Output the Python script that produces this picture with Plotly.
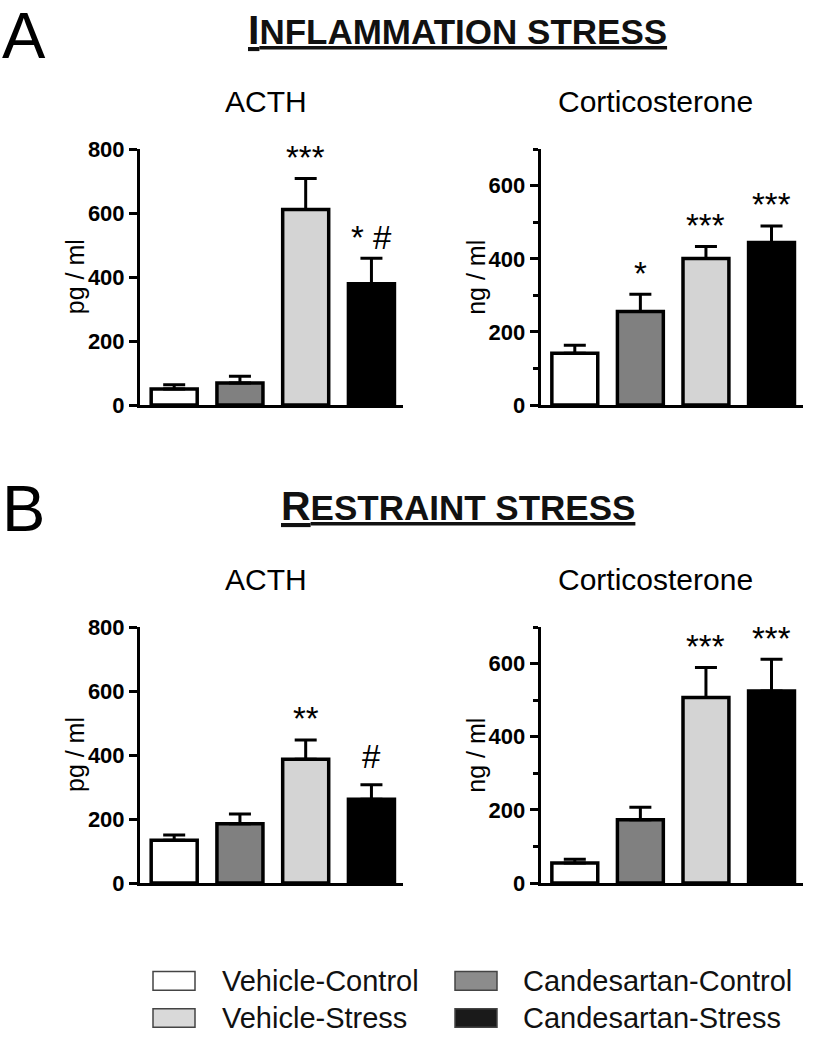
import plotly.graph_objects as go

W, H = 817, 1050

groups = ["Vehicle-Control", "Candesartan-Control", "Vehicle-Stress", "Candesartan-Stress"]
bar_colors = ["#ffffff", "#808080", "#d4d4d4", "#000000"]
legend_colors = ["#ffffff", "#8c8c8c", "#d9d9d9", "#1a1a1a"]

a_acth_mean = [50, 69, 611, 379]
a_acth_sem = [14, 21, 97, 80]
a_acth_sig = ["", "", "***", "* #"]

a_cort_mean = [142, 256, 401, 445]
a_cort_sem = [22, 47, 33, 45]
a_cort_sig = ["", "*", "***", "***"]

b_acth_mean = [134, 185, 387, 262]
b_acth_sem = [16, 31, 60, 45]
b_acth_sig = ["", "", "**", "#"]

b_cort_mean = [55, 173, 507, 525]
b_cort_sem = [10, 34, 82, 87]
b_cort_sig = ["", "", "***", "***"]

acth_ticks = [0, 200, 400, 600, 800]
cort_ticks = [0, 200, 400, 600]
cort_minor = [100, 300, 500, 700]

FONT = "Liberation Sans, Arial, sans-serif"


def px_x(p):
    return p / W


def px_y(p):
    return 1 - p / H


panels = [
    (a_acth_mean, a_acth_sem, a_acth_sig, "", (140, 403), (402.7, 140.5), 800, "pg / ml", "ACTH", -6),
    (a_cort_mean, a_cort_sem, a_cort_sig, "2", (540.7, 803), (402.7, 140.5), 700, "ng / ml", "Corticosterone", -16),
    (b_acth_mean, b_acth_sem, b_acth_sig, "3", (140, 403), (892.3, 630), 800, "pg / ml", "ACTH", -6),
    (b_cort_mean, b_cort_sem, b_cort_sig, "4", (540.7, 803), (892.3, 630), 700, "ng / ml", "Corticosterone", -16),
]

fig = go.Figure()
annotations = []
shapes = []
layout_axes = {}

for mean, sem, sig, sfx, xd, yd, ymax, unit, hormone, tdx in panels:
    xa = "x" + sfx
    ya = "y" + sfx
    cats = list(range(len(groups)))
    fig.add_trace(go.Bar(
        x=cats, y=mean,
        xaxis=xa, yaxis=ya,
        width=0.7,
        marker=dict(color=bar_colors, line=dict(color="black", width=3.5)),
        error_y=dict(type="data", array=sem, arrayminus=[0] * len(sem), symmetric=False,
                     color="black", thickness=3, width=11),
        showlegend=False, hoverinfo="skip",
    ))
    layout_axes["xaxis" + sfx] = dict(
        domain=[px_x(xd[0]), px_x(xd[1])], range=[-0.52, 3.48], anchor=ya,
        showticklabels=False, ticks="", showgrid=False, zeroline=False,
        showline=True, linewidth=3, linecolor="black", fixedrange=True,
    )
    is_cort = ymax == 700
    ydict = dict(
        domain=[px_y(yd[0]), px_y(yd[1])], range=[0, ymax], anchor=xa,
        tickvals=cort_ticks if is_cort else acth_ticks,
        ticks="outside", ticklen=8, tickwidth=3, tickcolor="black",
        tickfont=dict(family=FONT, size=22, color="black", weight="bold"),
        showgrid=False, zeroline=False, showline=True, linewidth=3, linecolor="black",
        fixedrange=True,
    )
    if is_cort:
        ydict["minor"] = dict(tickvals=cort_minor, ticks="outside", ticklen=5, tickwidth=2.5,
                              tickcolor="black")
    layout_axes["yaxis" + sfx] = ydict

    for i, s in enumerate(sig):
        if not s:
            continue
        shift = 28 if s == "#" else 21
        annotations.append(dict(
            x=i, y=mean[i] + sem[i], xref=xa, yref=ya, text=s, showarrow=False,
            yanchor="middle", yshift=shift, xanchor="center",
            font=dict(family=FONT, size=33, color="black"),
        ))
    annotations.append(dict(
        x=px_x(xd[0] - 65), y=px_y((yd[0] + yd[1]) / 2), xref="paper", yref="paper",
        text=unit, textangle=-90, showarrow=False, xanchor="center", yanchor="middle",
        font=dict(family=FONT, size=25, color="black"),
    ))
    annotations.append(dict(
        x=px_x((xd[0] + xd[1]) / 2 + tdx), y=px_y(yd[1] - 49), xref="paper", yref="paper",
        text=hormone, showarrow=False, xanchor="center", yanchor="middle",
        font=dict(family=FONT, size=30, color="black"),
    ))

for letter, first, rest, cy_letter, cy_title in [
    ("A", "I", "NFLAMMATION STRESS", 24, 18),
    ("B", "R", "ESTRAINT STRESS", 509, 506),
]:
    annotations.append(dict(
        x=px_x(0), y=px_y(cy_letter), xref="paper", yref="paper", text=letter,
        showarrow=False, xanchor="left", yanchor="middle",
        font=dict(family=FONT, size=65, color="black"),
    ))
    annotations.append(dict(
        x=px_x(457.5), y=px_y(cy_title), xref="paper", yref="paper",
        text="<b><span style='font-size:41px'>" + first + "</span>" + rest + "</b>",
        showarrow=False, xanchor="center", yanchor="middle",
        font=dict(family=FONT, size=35, color="#111111", lineposition="under"),
    ))

legend_cols = [(153, 195, 220), (455, 497, 521)]
legend_rows = [(983, 1002), (1021, 1040)]
for k, name in enumerate(groups):
    col = k % 2
    row = k // 2
    x0, x1, tx = legend_cols[col]
    y0, y1 = legend_rows[row]
    shapes.append(dict(type="rect", xref="paper", yref="paper",
                       x0=px_x(x0), x1=px_x(x1), y0=px_y(y1), y1=px_y(y0),
                       fillcolor=legend_colors[k], line=dict(color="#444444", width=1.5)))
    annotations.append(dict(
        x=px_x(tx), y=px_y((y0 + y1) / 2), xref="paper", yref="paper", text=name,
        showarrow=False, xanchor="left", yanchor="middle",
        font=dict(family=FONT, size=29, color="#111111"),
    ))

fig.update_layout(
    width=W, height=H, autosize=False,
    margin=dict(l=0, r=0, t=0, b=0),
    paper_bgcolor="white", plot_bgcolor="white",
    bargap=0.3,
    annotations=annotations, shapes=shapes,
    **layout_axes,
)

fig.write_html(
    "out.html",
    config={"displayModeBar": False},
    post_script=(
        "document.body.style.margin='0';document.body.style.padding='0';"
        "document.body.style.overflow='hidden';"
    ),
)
